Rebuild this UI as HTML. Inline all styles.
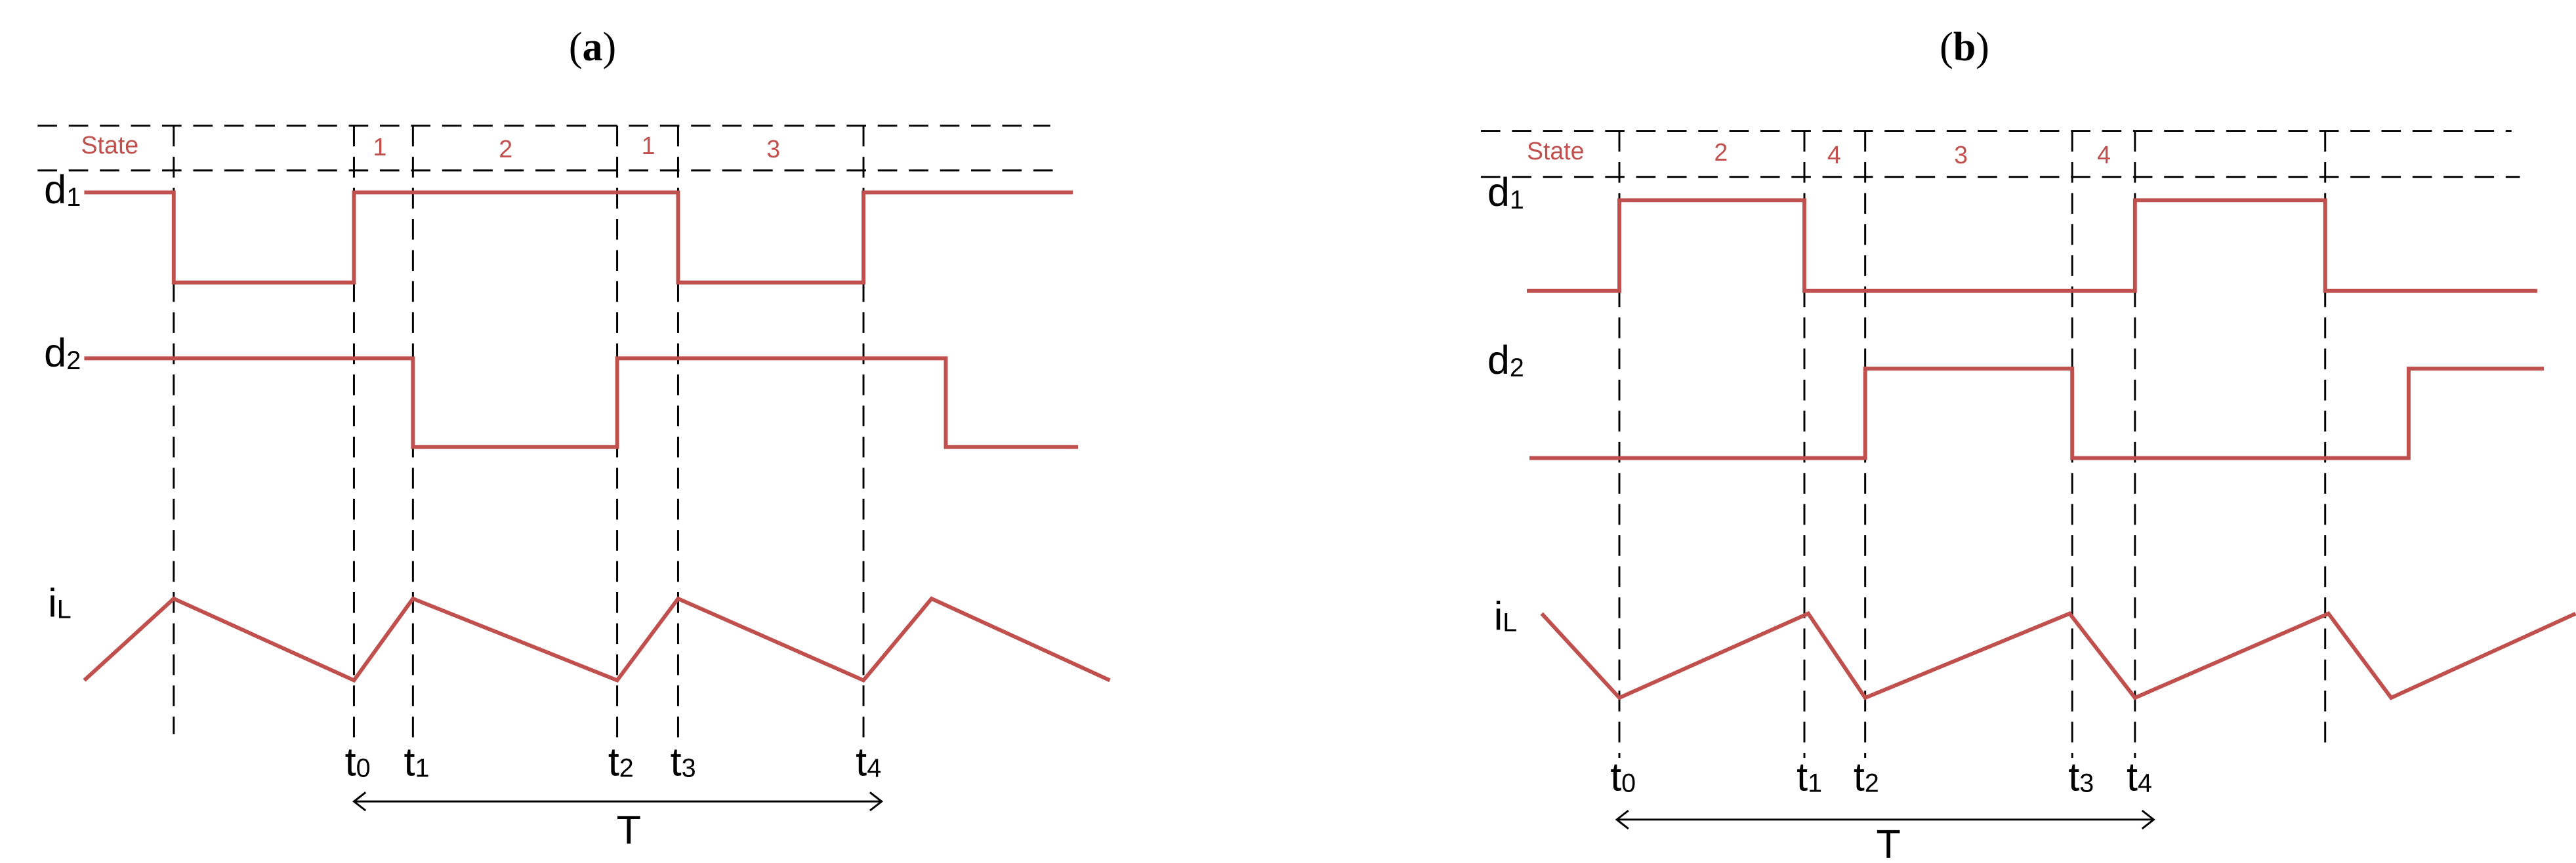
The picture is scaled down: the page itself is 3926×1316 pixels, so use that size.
<!DOCTYPE html>
<html><head><meta charset="utf-8"><style>
html,body{margin:0;padding:0;background:#fff;}
svg{display:block;}
.w{fill:none;stroke:#c0504d;stroke-width:6;}
.d{fill:none;stroke:#000;stroke-width:3;stroke-dasharray:30 18;}
.v{fill:none;stroke:#000;stroke-width:3;stroke-dasharray:32 16;}
.lab{font-family:"Liberation Sans Narrow","Liberation Sans",sans-serif;font-size:62px;fill:#000;}
.sub{font-size:40px;}
.st{font-family:"Liberation Sans Narrow","Liberation Sans",sans-serif;font-size:38px;fill:#c0504d;}
.ttl{font-family:"Liberation Serif",serif;font-size:62px;fill:#000;}
</style></head><body>
<svg width="3926" height="1316" viewBox="0 0 3926 1316" xmlns="http://www.w3.org/2000/svg">
<text class="ttl" x="903" y="92" text-anchor="middle">(<tspan font-weight="bold">a</tspan>)</text>
<text class="ttl" x="2994" y="92" text-anchor="middle">(<tspan font-weight="bold">b</tspan>)</text>
<!-- Panel a -->
<g transform="matrix(0.988,0,0,0.988,0,0)">
<line class="d" x1="58" y1="194" x2="1620" y2="194"/>
<line class="d" x1="58" y1="263" x2="1631" y2="263"/>
<line class="v" x1="268" y1="194" x2="268" y2="1133"/>
<line class="v" x1="546" y1="194" x2="546" y2="1145"/>
<line class="v" x1="637" y1="194" x2="637" y2="1145"/>
<line class="v" x1="952" y1="194" x2="952" y2="1145"/>
<line class="v" x1="1046" y1="194" x2="1046" y2="1145"/>
<line class="v" x1="1332" y1="194" x2="1332" y2="1145"/>
<text class="st" x="125" y="237">State</text>
<text class="st" x="586" y="240" text-anchor="middle">1</text>
<text class="st" x="780" y="243" text-anchor="middle">2</text>
<text class="st" x="1000" y="238" text-anchor="middle">1</text>
<text class="st" x="1193" y="243" text-anchor="middle">3</text>
<polyline class="w" points="130,297 268,297 268,436 546,436 546,297 1046,297 1046,436 1332,436 1332,297 1655,297"/>
<polyline class="w" points="130,553 637,553 637,690 952,690 952,553 1459,553 1459,690 1663,690"/>
<polyline class="w" points="130,1050 268,924 546,1050 637,924 952,1050 1046,924 1332,1050 1437,924 1712,1050"/>
<text class="lab" x="68" y="314">d<tspan class="sub" dy="4">1</tspan></text>
<text class="lab" x="68" y="566">d<tspan class="sub" dy="4">2</tspan></text>
<text class="lab" x="74" y="952">i<tspan class="sub" dy="2">L</tspan></text>
<text class="lab" x="532" y="1197">t<tspan class="sub" dy="2">0</tspan></text>
<text class="lab" x="623" y="1197">t<tspan class="sub" dy="2">1</tspan></text>
<text class="lab" x="938" y="1197">t<tspan class="sub" dy="2">2</tspan></text>
<text class="lab" x="1034" y="1197">t<tspan class="sub" dy="2">3</tspan></text>
<text class="lab" x="1320" y="1197">t<tspan class="sub" dy="2">4</tspan></text>
<line x1="546" y1="1237" x2="1360" y2="1237" stroke="#000" stroke-width="3"/>
<polyline points="564,1223 546,1237 564,1251" fill="none" stroke="#000" stroke-width="3"/>
<polyline points="1342,1223 1360,1237 1342,1251" fill="none" stroke="#000" stroke-width="3"/>
<text class="lab" x="970" y="1302" text-anchor="middle">T</text>
</g>

<!-- Panel b -->
<g transform="matrix(0.986,0,0,0.988,30.6,0)">
<line class="d" x1="2258" y1="202" x2="3851" y2="202"/>
<line class="d" x1="2258" y1="273" x2="3864" y2="273"/>
<line class="v" x1="2472" y1="202" x2="2472" y2="1170"/>
<line class="v" x1="2758" y1="202" x2="2758" y2="1170"/>
<line class="v" x1="2852" y1="202" x2="2852" y2="1170"/>
<line class="v" x1="3172" y1="202" x2="3172" y2="1170"/>
<line class="v" x1="3269" y1="202" x2="3269" y2="1170"/>
<line class="v" x1="3563" y1="202" x2="3563" y2="1160"/>
<text class="st" x="2329" y="246">State</text>
<text class="st" x="2629" y="248" text-anchor="middle">2</text>
<text class="st" x="2804" y="252" text-anchor="middle">4</text>
<text class="st" x="3000" y="252" text-anchor="middle">3</text>
<text class="st" x="3221" y="252" text-anchor="middle">4</text>
<polyline class="w" points="2329,449 2472,449 2472,309 2758,309 2758,449 3269,449 3269,309 3563,309 3563,449 3891,449"/>
<polyline class="w" points="2333,707 2852,707 2852,569 3172,569 3172,707 3692,707 3692,569 3901,569"/>
<polyline class="w" points="2352,947 2472,1077 2764,947 2852,1077 3168,947 3269,1077 3568,947 3665,1077 3950,947"/>
<text class="lab" x="2268" y="318">d<tspan class="sub" dy="4">1</tspan></text>
<text class="lab" x="2268" y="577">d<tspan class="sub" dy="4">2</tspan></text>
<text class="lab" x="2278" y="972">i<tspan class="sub" dy="2">L</tspan></text>
<text class="lab" x="2458" y="1220">t<tspan class="sub" dy="2">0</tspan></text>
<text class="lab" x="2746" y="1220">t<tspan class="sub" dy="2">1</tspan></text>
<text class="lab" x="2834" y="1220">t<tspan class="sub" dy="2">2</tspan></text>
<text class="lab" x="3166" y="1220">t<tspan class="sub" dy="2">3</tspan></text>
<text class="lab" x="3256" y="1220">t<tspan class="sub" dy="2">4</tspan></text>
<line x1="2468" y1="1265" x2="3298" y2="1265" stroke="#000" stroke-width="3"/>
<polyline points="2486,1251 2468,1265 2486,1279" fill="none" stroke="#000" stroke-width="3"/>
<polyline points="3280,1251 3298,1265 3280,1279" fill="none" stroke="#000" stroke-width="3"/>
<text class="lab" x="2888" y="1324" text-anchor="middle">T</text>
</g>
</svg>
</body></html>
